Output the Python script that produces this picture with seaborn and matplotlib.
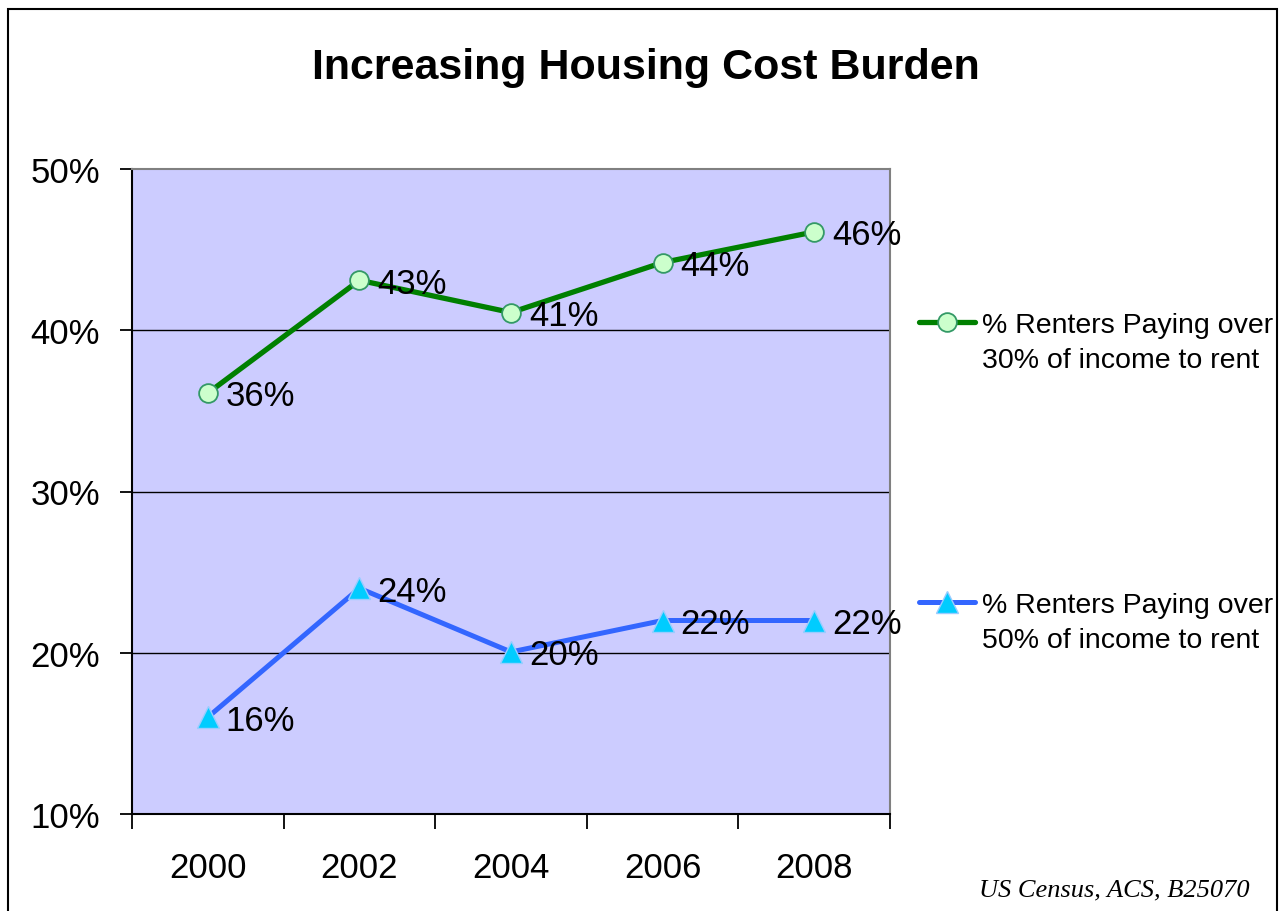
import numpy as np
import pandas as pd
import matplotlib
matplotlib.use("Agg")
import matplotlib.pyplot as plt
from matplotlib.legend_handler import HandlerLine2D
from matplotlib.patches import Rectangle
import seaborn as sns

years = ["2000", "2002", "2004", "2006", "2008"]
over_30 = [36.1, 43.1, 41.1, 44.2, 46.1]
over_50 = [16.0, 24.0, 20.05, 22.0, 22.0]
label_30 = "% Renters Paying over\n30% of income to rent"
label_50 = "% Renters Paying over\n50% of income to rent"
y_ticks = [10, 20, 30, 40, 50]

df = pd.DataFrame({"pos": list(range(len(years))) * 2,
                   "value": over_30 + over_50,
                   "series": [label_30] * len(years) + [label_50] * len(years)})


class FirstLineHandler(HandlerLine2D):
    """Put the legend handle on the first line of a two-line label."""
    def create_artists(self, legend, orig_handle, xdescent, ydescent, width, height, fontsize, trans):
        artists = super().create_artists(legend, orig_handle, xdescent, ydescent, width, height, fontsize, trans)
        for a in artists:
            a.set_ydata([y + 0.72 * fontsize for y in a.get_ydata()])
        return artists


sns.set_style("white")
plt.rcParams['font.family'] = ['Liberation Sans', 'DejaVu Sans']
plt.rcParams['text.color'] = 'black'
plt.rcParams['xtick.color'] = 'black'
plt.rcParams['ytick.color'] = 'black'

fig = plt.figure(figsize=(12.81, 9.12), dpi=100)
ax = fig.add_axes([132 / 1281, 1 - 815 / 912, (890 - 132) / 1281, (815 - 170) / 912])
ax.set_facecolor("#CCCCFF")

sns.lineplot(data=df[df["series"] == label_30], x="pos", y="value", ax=ax, color="#008000",
             linewidth=3.8, marker="o", markersize=13.5, markerfacecolor="#CCFFCC",
             markeredgecolor="#339966", markeredgewidth=1.3, label=label_30, legend=False)
sns.lineplot(data=df[df["series"] == label_50], x="pos", y="value", ax=ax, color="#3366FF",
             linewidth=3.6, marker="^", markersize=16, markerfacecolor="#00CCFF",
             markeredgecolor="#99CCFF", markeredgewidth=1.0, label=label_50, legend=False)

for vals in (over_30, over_50):
    for i, v in enumerate(vals):
        ax.annotate(f"{v:.0f}%", (i, v), xytext=(13, -2), textcoords="offset points",
                    ha="left", va="center", fontsize=25, color="black", annotation_clip=False)

ax.set_ylim(10, 50)
ax.set_yticks(y_ticks)
ax.set_yticklabels([f"{t}%" for t in y_ticks], fontsize=25)
ax.set_xlim(-0.5, len(years) - 0.5)
ax.set_xticks(np.arange(len(years) + 1) - 0.5)
ax.set_xticklabels([])
ax.set_xticks(range(len(years)), minor=True)
ax.set_xticklabels(years, minor=True, fontsize=25)
ax.tick_params(axis="x", which="major", direction="out", length=11, width=1.3, color="black", bottom=True)
ax.tick_params(axis="x", which="minor", length=0, pad=27, bottom=True)
ax.tick_params(axis="y", direction="out", length=9, width=1.3, color="black", pad=14, left=True)
ax.set_xlabel("")
ax.set_ylabel("")

for t in [20, 30, 40]:
    ax.axhline(t, color="black", linewidth=1.0, zorder=1)

for side in ["left", "bottom"]:
    ax.spines[side].set_color("black")
    ax.spines[side].set_linewidth(1.5)
for side in ["top", "right"]:
    ax.spines[side].set_color("#808080")
    ax.spines[side].set_linewidth(1.5)
    ax.spines[side].set_visible(True)

h1, h2 = ax.get_lines()[0], ax.get_lines()[1]
leg_kw = dict(frameon=False, fontsize=20.5, handlelength=1.95, handletextpad=0.25,
              borderpad=0, borderaxespad=0, loc="upper left",
              handler_map={matplotlib.lines.Line2D: FirstLineHandler()})
leg1 = fig.legend([h1], [label_30], bbox_to_anchor=(919 / 1281, 1 - 313 / 912), **leg_kw)
leg2 = fig.legend([h2], [label_50], bbox_to_anchor=(919 / 1281, 1 - 593 / 912), **leg_kw)
for leg in (leg1, leg2):
    for txt in leg.get_texts():
        txt.set_linespacing(1.45)

fig.text(0.504, 1 - 68 / 912, "Increasing Housing Cost Burden", ha="center", va="center",
         fontsize=31, fontweight="bold")
fig.text(1250 / 1281, 1 - 896 / 912, "US Census, ACS, B25070", ha="right", va="baseline",
         fontsize=19, style="italic", family=["Liberation Serif", "DejaVu Serif"])

fig.patches.append(Rectangle((8 / 1281, -0.02), (1277 - 8) / 1281, 1.02 - 10 / 912,
                             transform=fig.transFigure, fill=False, edgecolor="black",
                             linewidth=1.5))

fig.savefig("out.png", dpi=100)
